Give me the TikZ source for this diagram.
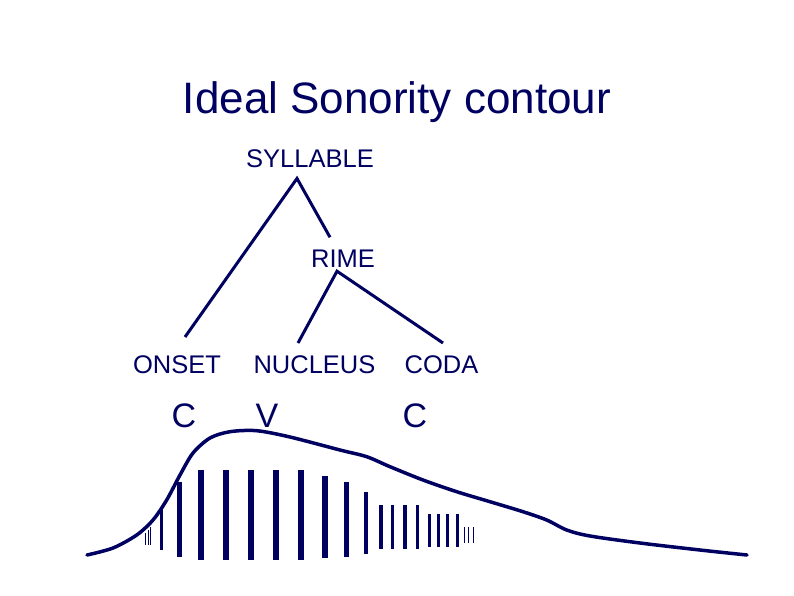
\documentclass[tikz,border=0pt]{standalone}
\usepackage{fontspec}
\setmainfont{Liberation Sans}
\definecolor{ink}{RGB}{0,0,96}
\begin{document}
\begin{tikzpicture}[x=1pt,y=-1pt,
	lbl/.style={anchor=base,inner sep=0pt,text=ink,font=\fontsize{25.5}{30}\selectfont},
	seg/.style={anchor=base,inner sep=0pt,text=ink,font=\fontsize{34}{40}\selectfont},
	branch/.style={draw=ink,line width=3pt}]
		\useasboundingbox (0,0) rectangle (794,595);
		\node[anchor=base,inner sep=0pt,text=ink,font=\fontsize{44}{50}\selectfont] (title) at (397,113) {Ideal Sonority contour};
		
		% tree
		\node[lbl] (syl) at (310,167) {SYLLABLE};
		\node[lbl] (rime) at (343,267) {RIME};
		\node[lbl] (onset) at (177,373) {ONSET};
		\node[lbl] (nucleus) at (314.5,373) {NUCLEUS};
		\node[lbl] (coda) at (441.5,373) {CODA};
		\coordinate (syl-foot) at ([xshift=-13pt,yshift=-11pt]syl.south);
		\coordinate (rime-foot) at ([xshift=-6pt,yshift=-4pt]rime.south);
		\draw[branch] ([xshift=8pt,yshift=18pt]onset.north) -- (syl-foot) -- ([xshift=-13pt,yshift=12pt]rime.north);
		\draw[branch] ([xshift=-16.5pt,yshift=12pt]nucleus.north) -- (rime-foot) -- ([xshift=1.5pt,yshift=12pt]coda.north);
		
		\foreach \x/\s/\n in {184/C/c1, 267/V/v, 415/C/c2}{
			\node[seg] (\n) at (\x,427) {\s};
		}
		
		% bars
		\foreach \x/\t/\b/\w in {145.7/533/545/1.2, 148.3/530/545/1.2, 150.7/527/545/1.2,
				161.7/508/550/3, 179/482/557/5,
				201.3/470/560/6, 226.3/470/560/6, 251.3/470/560/6, 276.3/470/560/6, 301.3/470/560/6,
				325.3/476/558/6, 346.7/482/557/5.5, 366/492/554/4,
				381/505/549/3.3, 392.7/505/549/3.3, 405/505/549/3.3, 417.7/505/549/3.3,
				429.3/514/547/2.7, 438.3/514/547/2.7, 447.3/514/547/2.7, 457.3/514/547/2.7,
				464/527/543/1, 468.7/527/543/1, 473.3/527/543/1}{
			\fill[ink] ({\x-\w/2},\t) rectangle ({\x+\w/2},\b);
		}
		
		% contour
		\draw[ink,line width=3.5pt,line cap=round] plot[smooth,tension=0.5] coordinates {(87,555) (113,548) (136.7,535) (153,520) (166.7,500) (180,475) (193,453) (210,438) (230,431.7) (256.7,430.7) (290,437) (340,450) (366.7,456.7) (390,466.7) (423,480) (456.7,491.7) (490,501.7) (523,511.7) (546.7,520) (566.7,530) (590,536) (640,543) (700,550) (747,555)};
\end{tikzpicture}
\end{document}
